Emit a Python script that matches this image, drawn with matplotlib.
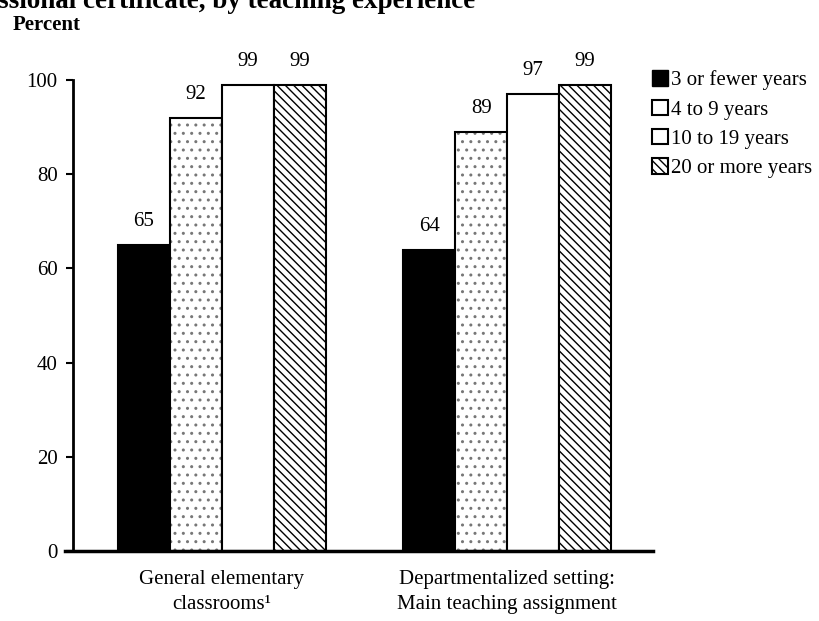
import numpy as np
import matplotlib.pyplot as plt
from matplotlib.patches import Patch

plt.rcParams['font.family'] = ['Liberation Serif', 'DejaVu Serif']
plt.rcParams['hatch.linewidth'] = 1.0

groups = ['General elementary\nclassrooms\u00b9', 'Departmentalized setting:\nMain teaching assignment']
series = ['3 or fewer years', '4 to 9 years', '10 to 19 years', '20 or more years']
values = [[65, 64], [92, 89], [99, 97], [99, 99]]

fs = 15
fig = plt.figure(figsize=(8.2, 6.21), dpi=100)
ax = fig.add_axes([0.089, 0.1127, 0.707, 0.7585])

centers = np.array([2.865, 8.35])
w = 1.0
faces = ['black', 'white', 'white', 'white']
hatches = [None, '..', None, '\\\\\\\\']
hcolors = ['black', '#777777', 'black', 'black']

for i, s in enumerate(series):
    xs = centers + (i - 1.5) * w
    bars = ax.bar(xs, values[i], width=w, color=faces[i], edgecolor='black',
                  linewidth=1.5, hatch=hatches[i])
    for b in bars:
        b._hatch_color = plt.matplotlib.colors.to_rgba(hcolors[i])
    for x, v in zip(xs, values[i]):
        ax.annotate(str(v), (x, v), xytext=(0, 10), textcoords='offset points',
                    ha='center', va='bottom', fontsize=fs)

ax.set_xlim(0, 11.15)
ax.set_ylim(0, 100)
ax.set_yticks([0, 20, 40, 60, 80, 100])
ax.set_xticks(centers)
ax.set_xticklabels(groups, fontsize=fs, linespacing=1.4)
ax.tick_params(axis='x', length=0, pad=14)
ax.tick_params(axis='y', labelsize=fs, length=5, width=1.5, direction='out', pad=6)
for sp in ['top', 'right']:
    ax.spines[sp].set_visible(False)
ax.spines['left'].set_linewidth(2)
ax.spines['bottom'].set_linewidth(2.5)
ax.spines['bottom'].set_bounds(-0.15, 11.15)
ax.spines['left'].set_zorder(5)

handles = [Patch(facecolor='black', edgecolor='black'),
           Patch(facecolor='white', edgecolor='black', linewidth=1.5),
           Patch(facecolor='white', edgecolor='black', linewidth=1.5),
           Patch(facecolor='white', edgecolor='black', linewidth=1.5, hatch='\\\\\\\\')]
fig.legend(handles, series, loc='upper left', bbox_to_anchor=(0.785, 0.9),
           frameon=False, fontsize=fs, handlelength=0.75, handleheight=0.75,
           handletextpad=0.15, labelspacing=0.45, borderaxespad=0)

fig.text(0.015, 0.96, 'Percent', fontsize=15, fontweight='bold', va='center')
fig.text(-0.002, 0.987, 'ssional certificate, by teaching experience',
         fontsize=19.5, fontweight='bold', va='baseline', ha='left')

fig.savefig('out.png', dpi=100)
